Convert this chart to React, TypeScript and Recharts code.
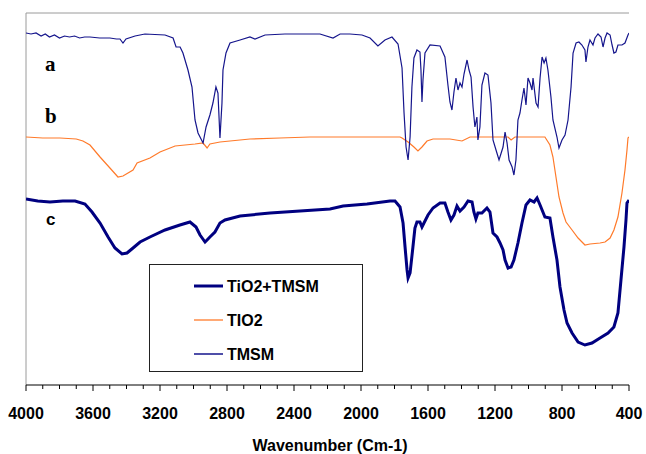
import React from 'react';
import { LineChart, Line, XAxis, YAxis, ReferenceLine } from 'recharts';

// wavenumber (cm-1), transmittance (arbitrary units, offset spectra)
const tmsmSpectrum: [number, number][] = [
  [4000, 353], [3970, 352], [3940, 353], [3910, 350], [3885, 352], [3860, 349], [3830, 351], [3800, 348],
  [3770, 350], [3740, 349], [3710, 350], [3680, 348], [3650, 349], [3618, 349], [3560, 348], [3499, 348],
  [3460, 347], [3439, 347], [3421, 343], [3403, 347], [3349, 350], [3290, 352], [3170, 351], [3122, 348],
  [3104, 339], [3080, 339], [3063, 333], [3033, 316], [3009, 299], [2991, 266], [2973, 253], [2943, 243],
  [2925, 259], [2902, 271], [2884, 283], [2866, 299], [2854, 293], [2842, 248], [2830, 283], [2824, 316],
  [2806, 333], [2782, 343], [2722, 346], [2663, 349], [2633, 347], [2573, 351], [2454, 352], [2305, 352],
  [2245, 352], [2167, 348], [2125, 352], [2066, 352], [1994, 351], [1946, 348], [1899, 340], [1857, 346],
  [1815, 349], [1779, 342], [1755, 318], [1743, 273], [1731, 239], [1719, 226], [1707, 249], [1696, 299],
  [1684, 328], [1666, 336], [1648, 334], [1642, 316], [1636, 284], [1630, 306], [1618, 333], [1588, 341],
  [1528, 340], [1499, 329], [1481, 301], [1469, 284], [1457, 276], [1445, 294], [1433, 308], [1421, 296],
  [1409, 303], [1397, 299], [1385, 312], [1367, 326], [1355, 316], [1343, 309], [1331, 279], [1320, 259],
  [1308, 269], [1302, 246], [1290, 259], [1278, 301], [1260, 313], [1242, 311], [1224, 283], [1212, 246],
  [1194, 236], [1176, 226], [1152, 239], [1140, 254], [1128, 243], [1116, 226], [1098, 219], [1087, 211],
  [1075, 226], [1063, 266], [1051, 273], [1039, 286], [1027, 298], [1015, 281], [1003, 308], [991, 303],
  [979, 296], [973, 308], [955, 283], [943, 279], [931, 308], [919, 329], [907, 323], [896, 328],
  [884, 316], [866, 289], [854, 266], [830, 249], [818, 238], [800, 246], [782, 251], [764, 266],
  [746, 299], [734, 333], [716, 343], [699, 344], [681, 341], [663, 336], [657, 324], [645, 339],
  [633, 346], [615, 341], [603, 348], [585, 352], [567, 349], [555, 339], [543, 348], [531, 353],
  [513, 351], [501, 341], [490, 333], [478, 334], [466, 341], [442, 341], [424, 343], [406, 351], [400, 353],
];

const tio2Spectrum: [number, number][] = [
  [4000, 249], [3900, 248], [3797, 248], [3700, 247], [3660, 245], [3618, 241], [3558, 229], [3499, 218],
  [3451, 209], [3421, 210], [3361, 216], [3337, 223], [3260, 228], [3200, 234], [3110, 240], [2991, 242],
  [2943, 243], [2919, 238], [2902, 242], [2842, 244], [2782, 245], [2663, 247], [2484, 248], [2305, 249],
  [1767, 249], [1755, 248], [1719, 244], [1684, 239], [1660, 235], [1636, 239], [1606, 245], [1570, 247],
  [1469, 247], [1397, 245], [1349, 249], [1122, 249], [1104, 246], [1081, 249], [902, 249], [872, 241],
  [854, 229], [836, 209], [818, 189], [794, 173], [776, 164], [740, 156], [704, 148], [663, 141],
  [633, 142], [573, 143], [543, 144], [513, 148], [490, 156], [466, 169], [442, 193], [424, 216],
  [412, 236], [406, 248], [400, 249],
];

const tio2TmsmSpectrum: [number, number][] = [
  [4000, 187], [3930, 185], [3857, 184], [3780, 185], [3707, 185], [3648, 182], [3606, 174], [3558, 163],
  [3510, 149], [3469, 138], [3427, 132], [3397, 133], [3361, 138], [3319, 144], [3260, 149], [3170, 156],
  [3081, 161], [3021, 164], [2985, 159], [2961, 151], [2931, 144], [2919, 146], [2902, 149], [2872, 154],
  [2842, 163], [2812, 166], [2722, 170], [2543, 173], [2364, 175], [2185, 177], [2107, 180], [1964, 182],
  [1827, 185], [1797, 185], [1767, 179], [1749, 163], [1737, 139], [1725, 116], [1719, 108], [1707, 113],
  [1690, 139], [1678, 158], [1666, 164], [1648, 164], [1636, 159], [1624, 163], [1600, 171], [1570, 178],
  [1528, 183], [1499, 183], [1481, 174], [1463, 166], [1445, 171], [1427, 180], [1409, 175], [1385, 179],
  [1361, 185], [1337, 184], [1326, 174], [1314, 167], [1302, 173], [1278, 173], [1248, 178], [1230, 174],
  [1212, 153], [1188, 149], [1170, 143], [1152, 136], [1140, 126], [1122, 118], [1104, 119], [1087, 126],
  [1063, 143], [1039, 163], [1015, 181], [991, 186], [967, 184], [949, 188], [931, 181], [902, 169],
  [872, 168], [854, 149], [830, 126], [812, 99], [788, 76], [770, 63], [740, 53], [704, 44],
  [663, 41], [621, 43], [573, 48], [525, 53], [490, 59], [466, 73], [448, 106], [430, 139],
  [418, 166], [412, 183], [400, 186],
];

const xTicks: number[] = [
  4000, 3900, 3800, 3700, 3600, 3500, 3400, 3300, 3200, 3100, 3000, 2900, 2800, 2700, 2600, 2500, 2400,
  2300, 2200, 2100, 2000, 1900, 1800, 1700, 1600, 1500, 1400, 1300, 1200, 1100, 1000, 900, 800, 700, 600,
  500, 400,
];

const seriesNames = ['TiO2+TMSM', 'TIO2', 'TMSM'];
const curveLabels = ['a', 'b', 'c'];

const toRows = (pts: [number, number][]) => pts.map(([w, t]) => ({ w, t }));

const COLORS = { c: '#000080', b: '#ff7a2a', a: '#15158c' };
const SANS = '"Liberation Sans", Arial, Helvetica, sans-serif';
const SERIF = '"Liberation Serif", "Times New Roman", serif';

const Tick = (props: any) => {
  const { x, y, payload } = props;
  const v = payload.value as number;
  const major = v % 400 === 0;
  return (
    <g>
      <line x1={x} x2={x} y1={y} y2={y + (major ? 6 : 4)} stroke="#000" strokeWidth={1} />
      {major && (
        <text x={x} y={y + 34} textAnchor="middle" fontFamily={SANS} fontWeight="bold" fontSize={16} fill="#000">
          {v}
        </text>
      )}
    </g>
  );
};

const LegendBox = () => {
  const rows = [
    { name: seriesNames[0], color: COLORS.c, w: 3 },
    { name: seriesNames[1], color: COLORS.b, w: 1.3 },
    { name: seriesNames[2], color: COLORS.a, w: 1.5 },
  ];
  return (
    <g transform="translate(149,264)">
      <rect x={0.5} y={0.5} width={213} height={107} fill="#fff" stroke="#222" strokeWidth={1} />
      {rows.map((r, i) => {
        const cy = 22 + i * 34;
        return (
          <g key={r.name}>
            <line x1={45} x2={74} y1={cy} y2={cy} stroke={r.color} strokeWidth={r.w} />
            <text x={78} y={cy + 6} fontFamily={SANS} fontWeight="bold" fontSize={16} fill="#000">
              {r.name}
            </text>
          </g>
        );
      })}
    </g>
  );
};

export default function App() {
  return (
    <div style={{ position: 'absolute', left: 0, top: 0, width: 646, height: 454, background: '#fff' }}>
      <LineChart width={646} height={454} margin={{ top: 13, right: 17, left: 26, bottom: 0 }}>
        <XAxis
          dataKey="w"
          type="number"
          domain={[400, 4000]}
          reversed
          ticks={xTicks}
          interval={0}
          tick={<Tick />}
          tickLine={false}
          tickSize={0}
          tickMargin={0}
          height={69}
          axisLine={{ stroke: '#000', strokeWidth: 1 }}
          allowDataOverflow
        />
        <YAxis
          dataKey="t"
          type="number"
          domain={[1, 373]}
          orientation="right"
          width={0}
          tick={false}
          tickLine={false}
          axisLine={{ stroke: '#333', strokeWidth: 1.5 }}
          allowDataOverflow
        />
        <ReferenceLine y={373} stroke="#9a9a9a" strokeWidth={1} />
        <ReferenceLine x={4000} stroke="#9a9a9a" strokeWidth={1} />
        <Line data={toRows(tio2TmsmSpectrum)} dataKey="t" type="linear" stroke={COLORS.c} strokeWidth={3} dot={false} isAnimationActive={false} name={seriesNames[0]} />
        <Line data={toRows(tio2Spectrum)} dataKey="t" type="linear" stroke={COLORS.b} strokeWidth={1.2} dot={false} isAnimationActive={false} name={seriesNames[1]} />
        <Line data={toRows(tmsmSpectrum)} dataKey="t" type="linear" stroke={COLORS.a} strokeWidth={1.2} dot={false} isAnimationActive={false} name={seriesNames[2]} />
      </LineChart>
      <svg width={646} height={454} style={{ position: 'absolute', left: 0, top: 0, pointerEvents: 'none' }}>
        <LegendBox />
        <text x={45} y={71} fontFamily={SERIF} fontWeight="bold" fontSize={21} fill="#000">{curveLabels[0]}</text>
        <text x={45} y={123} fontFamily={SERIF} fontWeight="bold" fontSize={21} fill="#000">{curveLabels[1]}</text>
        <text x={46} y={225} fontFamily={SANS} fontWeight="bold" fontSize={17} fill="#000">{curveLabels[2]}</text>
        <text x={330} y={451} textAnchor="middle" fontFamily={SANS} fontWeight="bold" fontSize={16} fill="#000">
          Wavenumber (Cm-1)
        </text>
      </svg>
    </div>
  );
}
